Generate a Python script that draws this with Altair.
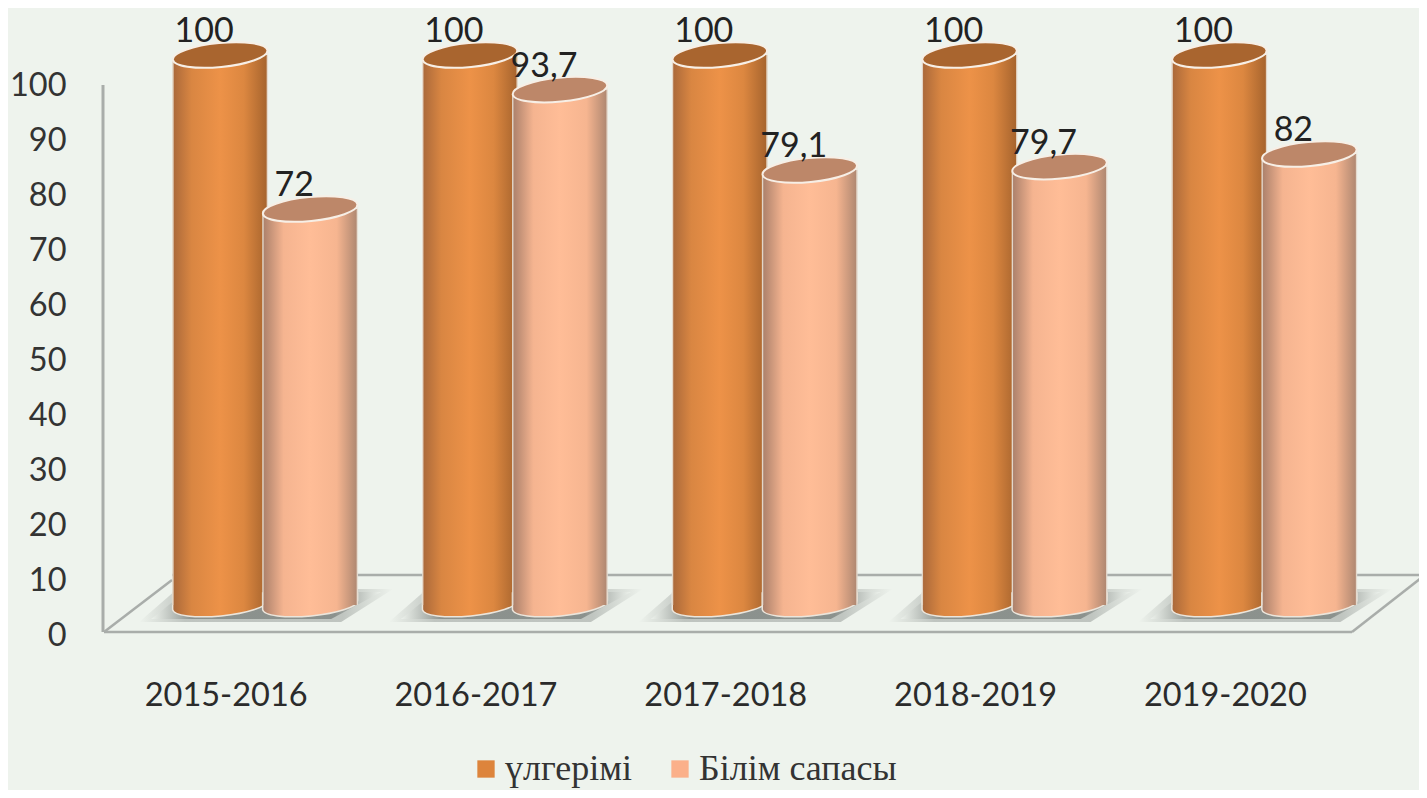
import altair as alt
import pandas as pd

years = ["2015-2016", "2016-2017", "2017-2018", "2018-2019", "2019-2020"]
series_names = ["үлгерімі", "Білім сапасы"]
progress = [100, 100, 100, 100, 100]
quality = [72, 93.7, 79.1, 79.7, 82]
y_ticks = [0, 10, 20, 30, 40, 50, 60, 70, 80, 90, 100]

W, H = 1411, 782
BG = "#eef3ed"
LINE = "#a9adaa"
RIM = "#ece6dc"


def fmt(v):
    return f"{v:g}".replace(".", ",")


df_a = pd.DataFrame({"year": years, "value": progress, "base": 0, "series": series_names[0]})
df_b = pd.DataFrame({"year": years, "value": quality, "base": 0, "series": series_names[1]})
df_a["label"] = [fmt(v) for v in progress]
df_b["label"] = [fmt(v) for v in quality]
df_all = pd.concat([df_a, df_b])
df_ticks = pd.DataFrame({"tick": y_ticks})
df_one = pd.DataFrame({"a": [0]})

x_enc = alt.X(
    "year:N",
    sort=years,
    title=None,
    scale=alt.Scale(domain=years, range=[132.25, 1381.25], paddingInner=0, paddingOuter=0),
    axis=alt.Axis(
        domain=False, ticks=False, grid=False, labelAngle=0, labelFontSize=32.5,
        labelFont="Lato", labelColor="#2b2b2b", labelOffset=-39, offset=-85,
        labelPadding=0, labelBaseline="alphabetic",
    ),
)
bar_scale = alt.Scale(domain=[-33.64, 108.55], range=[H, 0], nice=False, zero=False)
axis_scale = alt.Scale(domain=[-28.18, 114.0], range=[H, 0], nice=False, zero=False)
y_val = alt.Y("value:Q", scale=bar_scale, axis=None, stack=None, title=None)
y_base = alt.Y("base:Q", scale=bar_scale, axis=None, title=None)


def hgrad(stops):
    return alt.Gradient(
        gradient="linear", x1=0, x2=1, y1=0, y2=0,
        stops=[alt.GradientStop(offset=o, color=c) for o, c in stops],
    )


grad_a = hgrad([(0, "#a9683a"), (0.2, "#d98642"), (0.5, "#ed9248"), (0.75, "#dc8740"), (1, "#a5632d")])
grad_b = hgrad([(0, "#a97f6a"), (0.22, "#f5b490"), (0.5, "#ffbd97"), (0.78, "#f6b590"), (1, "#ad8670")])

TOP = "M-47.5,0A47.5,12,0,1,1,47.5,0A47.5,12,0,1,1,-47.5,0Z"
BOTTOM = "M-47.5,-12L-47.5,4.5A47.7,11,-5.4,0,0,47.5,-4.5L47.5,-12Z"
SHADOW_OUT = "M-126,17L76,17L128,-16L-88,-16Z"
SHADOW_IN = "M-114,14L66,14L116,-13L-80,-13Z"
SHADOW_GRAD = hgrad([
    (0, "#eef3ed"), (0.18, "#868c88"), (0.8, "#868c88"), (1, "#eef3ed"),
])


def rule(x1, y1, x2, y2, width=2.5):
    return alt.Chart(df_one).mark_rule(color=LINE, strokeWidth=width).encode(
        x=alt.value(x1 - 8), x2=alt.value(x2 - 8), y=alt.value(y1 - 8), y2=alt.value(y2 - 8)
    )


frame = [
    rule(103, 85, 103, 632, 3),
    rule(104, 632, 1352, 632),
    rule(104, 632, 172, 580),
    rule(1352, 632, 1425, 575),
    rule(172, 575, 1425, 575),
]

axis_layer = alt.Chart(df_ticks).mark_point(opacity=0, size=1).encode(
    x=alt.value(90),
    y=alt.Y(
        "tick:Q", scale=axis_scale, title=None,
        axis=alt.Axis(
            values=y_ticks, domain=False, ticks=False, grid=False, labelFontSize=32.5,
            labelFont="Lato", labelColor="#333333", offset=-58, labelPadding=0,
        ),
    ),
)

shadows = [
    alt.Chart(df_a).mark_point(
        shape=shape, size=4, filled=True, strokeWidth=0, opacity=op, fill=SHADOW_GRAD,
    ).encode(x=x_enc, y=y_base)
    for shape, op in [(SHADOW_OUT, 0.45), (SHADOW_IN, 0.9)]
]


def cylinder(df, dx, grad, top_fill):
    bottom = alt.Chart(df).mark_point(
        shape=BOTTOM, size=4, filled=True, xOffset=dx, fill=grad, stroke=RIM, strokeWidth=1.5, opacity=1
    ).encode(x=x_enc, y=y_base)
    body = alt.Chart(df).mark_bar(
        width=95, xOffset=dx, fill=grad, cornerRadiusTopLeft=5
    ).encode(x=x_enc, y=y_val)
    edge_l = alt.Chart(df).mark_bar(width=1.4, xOffset=dx - 47.2, yOffset=5, fill=RIM, opacity=0.85).encode(x=x_enc, y=y_val)
    edge_r = alt.Chart(df).mark_bar(width=1.4, xOffset=dx + 47.2, yOffset=-4, fill=RIM, opacity=0.85).encode(x=x_enc, y=y_val)
    top = alt.Chart(df).mark_point(
        shape=TOP, size=4, filled=True, angle=354.5, xOffset=dx, fill=top_fill, stroke="#f7efe6", strokeWidth=2, opacity=1
    ).encode(x=x_enc, y=y_val)
    return [bottom, body, edge_l, edge_r, top]


def labels(df, dx):
    return alt.Chart(df).mark_text(
        font="Lato", fontSize=34, color="#222222", xOffset=dx, yOffset=-13,
        baseline="alphabetic", align="center",
    ).encode(x=x_enc, y=y_val, text="label:N")


legend_layer = alt.Chart(df_all).mark_square(size=0, opacity=1).encode(
    x=x_enc,
    y=y_val,
    color=alt.Color(
        "series:N",
        scale=alt.Scale(domain=series_names, range=["#dd843c", "#fbb08a"]),
        legend=alt.Legend(
            title=None, orient="none", legendX=460, legendY=743, direction="horizontal",
            labelFont="Liberation Serif", labelFontSize=36, labelColor="#333333",
            symbolType="square", symbolSize=300, symbolStrokeWidth=0, columnPadding=29,
            labelOffset=1, padding=0, labelLimit=400,
        ),
    ),
)

chart = alt.layer(
    *frame,
    axis_layer,
    *shadows,
    *cylinder(df_a, -45, grad_a, "#a9652f"),
    *cylinder(df_b, 45, grad_b, "#bd8769"),
    labels(df_a, -61),
    labels(df_b, 29),
    legend_layer,
).resolve_scale(y="independent").properties(
    width=W, height=H, padding=0, background=BG,
    autosize=alt.AutoSizeParams(type="none"),
).configure_view(stroke=None)

chart.save("out.html", embed_options={"renderer": "svg", "actions": False})
